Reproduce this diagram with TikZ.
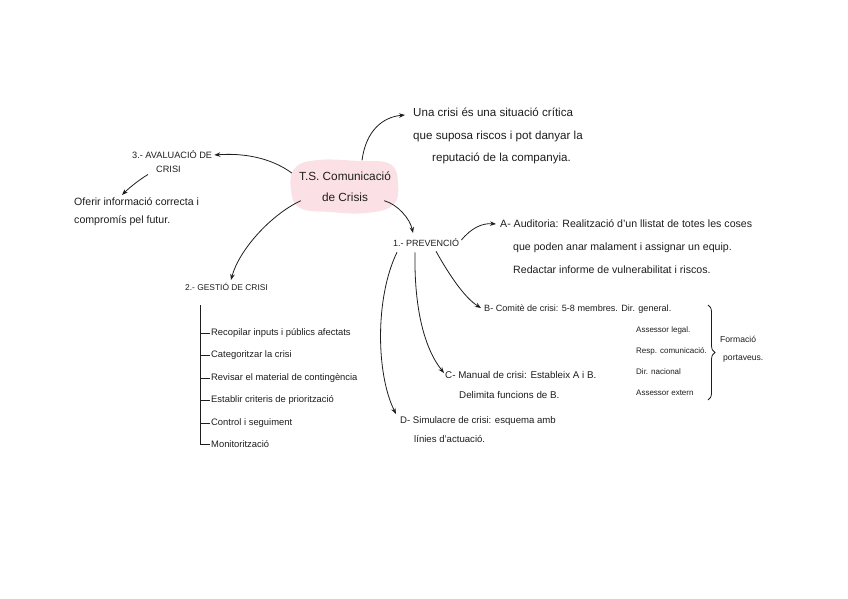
\documentclass[tikz,border=0pt]{standalone}
\usepackage{fontspec}
\setmainfont{Liberation Sans}
\usetikzlibrary{arrows.meta,decorations.pathreplacing}
\definecolor{ink}{RGB}{30,30,30}
\definecolor{blobpink}{RGB}{251,224,229}
\begin{document}
\begin{tikzpicture}[x=1pt,y=-1pt,
  txt/.style={inner sep=0pt, anchor=north west, align=left, text=ink},
  conn/.style={-{Stealth[length=6pt,width=4.5pt]}, line width=0.8pt, draw=ink},
  tick/.style={line width=0.8pt, draw=ink},
  item/.style={inner sep=1pt, anchor=west, text=ink, font=\fontsize{9.4}{10}\selectfont}]
\useasboundingbox (0,0) rectangle (848,599);
\fill[white] (0,0) rectangle (848,599);
% pink blob
\fill[blobpink] plot[smooth cycle, tension=0.7] coordinates {(295,168) (318,160) (358,161) (390,164) (398,184) (393,205) (366,213) (330,212) (300,208) (291,190)};
\node[inner sep=0pt, minimum width=106pt, minimum height=53pt, align=center, text=ink,
      font=\fontsize{11.8}{21}\selectfont] (center) at (345,187) {T.S. Comunicació\\de Crisis};

\node[txt, font=\fontsize{11.6}{22.5}\selectfont] (def) at (413,108)
  {Una crisi és una situació crítica\\que suposa riscos i pot danyar la\\\hspace{19pt}reputació de la companyia.};

\node[txt, font=\fontsize{9.2}{14}\selectfont] (eval) at (132,150)
  {3.- AVALUACIÓ DE\\\hspace{24pt}CRISI};
\node[txt, font=\fontsize{10.6}{18}\selectfont] (offer) at (74,197)
  {Oferir informació correcta i\\compromís pel futur.};

\node[txt, font=\fontsize{8.4}{10}\selectfont] (gest) at (185,283) {2.- GESTIÓ DE CRISI};
\coordinate (spine) at (200,305);
\node[item] (i1) at (210,333) {Recopilar inputs i públics afectats};
\node[item] (i2) at (210,355) {Categoritzar la crisi};
\node[item] (i3) at (210,378) {Revisar el material de contingència};
\node[item] (i4) at (210,400) {Establir criteris de priorització};
\node[item] (i5) at (210,423) {Control i seguiment};
\node[item] (i6) at (210,444) {Monitorització};
\draw[tick] (spine) |- (i6.west);
\foreach \n in {i1,i2,i3,i4,i5} \draw[tick] (spine |- \n.west) -- (\n.west);

\node[txt, font=\fontsize{9}{10}\selectfont] (prev) at (393,238) {1.- PREVENCIÓ};

\node[txt, font=\fontsize{10.6}{23}\selectfont] (A) at (500,219)
  {A- Auditoria: Realització d'un llistat de totes les coses\\\hspace{13pt}que poden anar malament i assignar un equip.\\\hspace{13pt}Redactar informe de vulnerabilitat i riscos.};

\node[txt, font=\fontsize{9.1}{21}\selectfont] (B) at (484,305)
  {B- Comitè de crisi: 5-8 membres. Dir. general.};
\node[txt, font=\fontsize{8}{21}\selectfont] (Bl) at (636,326)
  {Assessor legal.\\Resp. comunicació.\\Dir. nacional\\Assessor extern};
\coordinate (braceTop) at (708,305);
\coordinate (braceBot) at (708,400);
\draw[decorate, decoration={brace, amplitude=7pt}, line width=0.8pt, draw=ink] (braceTop) -- (braceBot);
\node[txt, font=\fontsize{8.6}{18}\selectfont] (form) at (720,336) {Formació\\\hspace{3pt}portaveus.};

\node[txt, font=\fontsize{9.8}{20}\selectfont] (C) at (445,371)
  {C- Manual de crisi: Estableix A i B.\\\hspace{14pt}Delimita funcions de B.};
\node[txt, font=\fontsize{9.6}{19}\selectfont] (D) at (400,416)
  {D- Simulacre de crisi: esquema amb\\\hspace{14pt}línies d'actuació.};

% connectors
\draw[conn] ([xshift=17pt]center.north) .. controls +(4,-30) and +(-22,2) .. ([xshift=-8pt,yshift=-7pt]def.north west);
\draw[conn] ([yshift=14pt]center.west) .. controls +(-22,-16) and +(28,-2) .. ([xshift=2pt,yshift=-5pt]eval.north east);
\draw[conn] ([xshift=16pt,yshift=-2pt]eval.south west) .. controls +(-10,6) and +(6,-6) .. ([xshift=48pt,yshift=2pt]offer.north west);
\draw[conn] ([xshift=9pt,yshift=13pt]center.south west) .. controls +(-30,14) and +(8,-30) .. ([xshift=46pt,yshift=3pt]gest.north west);
\draw[conn] ([xshift=-14pt,yshift=13pt]center.south east) .. controls +(14,4) and +(-3,-14) .. ([xshift=20pt,yshift=5pt]prev.north west);
\draw[conn] ([xshift=2pt,yshift=-2pt]prev.north east) .. controls +(10,-12) and +(-14,-1) .. ([xshift=-4pt,yshift=-5pt]A.north west);
\draw[conn] ([xshift=43pt,yshift=-5pt]prev.south west) .. controls +(14,25) and +(-16,-10) .. ([xshift=-3pt,yshift=-3pt]B.north west);
\draw[conn] ([xshift=22pt,yshift=-6pt]prev.south west) .. controls +(-1,55) and +(-20,-25) .. ([xshift=-1pt,yshift=-2pt]C.north west);
\draw[conn] ([xshift=4pt,yshift=-6pt]prev.south west) .. controls +(-22,45) and +(-20,-40) .. ([xshift=-4pt,yshift=2pt]D.north west);
\end{tikzpicture}
\end{document}
